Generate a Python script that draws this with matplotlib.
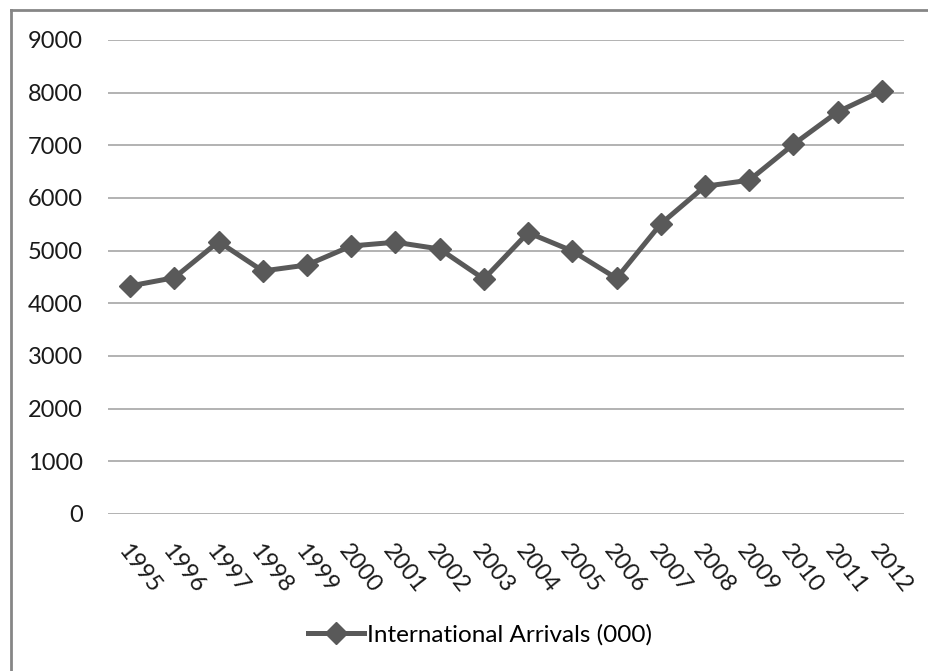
import matplotlib
matplotlib.use("Agg")
import matplotlib.pyplot as plt
from matplotlib.lines import Line2D

plt.rcParams['font.family'] = ['Lato', 'DejaVu Sans']

years = [str(y) for y in range(1995, 2013)]
arrivals = [4330, 4487, 5171, 4614, 4728, 5089, 5160, 5032, 4462,
            5342, 4994, 4475, 5508, 6223, 6337, 7019, 7635, 8032]
yticks = [0, 1000, 2000, 3000, 4000, 5000, 6000, 7000, 8000, 9000]

fig = plt.figure(figsize=(9.29, 6.71), dpi=100)
ax = fig.add_axes([108 / 929, 1 - 514 / 671, (904 - 108) / 929, (514 - 40) / 671])

x = list(range(len(years)))
ax.plot(x, arrivals, color='#595959', lw=3.6, marker='D', markersize=11,
        label='International Arrivals (000)')

ax.set_xlim(-0.5, len(years) - 0.5)
ax.set_ylim(0, 9000)
ax.set_yticks(yticks)
ax.set_yticklabels([str(v) for v in yticks], fontsize=17, color='#1a1a1a')
ax.set_xticks(x)
ax.set_xticklabels(years, fontsize=17, color='#1a1a1a', rotation=-52,
                   ha='left', va='top', rotation_mode='anchor')
ax.tick_params(axis='both', length=0)
ax.tick_params(axis='y', pad=18)
ax.tick_params(axis='x', pad=19)
ax.grid(axis='y', color='#a6a6a6', lw=1.2)
ax.set_axisbelow(True)
for s in ax.spines.values():
    s.set_visible(False)

handle = Line2D([], [], color='#595959', lw=3.6, marker='D', markersize=11)
fig.legend([handle], ['International Arrivals (000)'], loc='center',
           bbox_to_anchor=(480 / 929, 1 - 635 / 671), frameon=False,
           fontsize=17.5, handlelength=2.3, handletextpad=0.1)

# outer chart border (only top and left visible in the crop)
fig.add_artist(Line2D([11 / 929, 11 / 929], [0, 1 - 10 / 671],
                      transform=fig.transFigure, color='#868686', lw=2))
fig.add_artist(Line2D([11 / 929, 1], [1 - 10 / 671, 1 - 10 / 671],
                      transform=fig.transFigure, color='#868686', lw=2))

fig.savefig('out.png', dpi=100)
